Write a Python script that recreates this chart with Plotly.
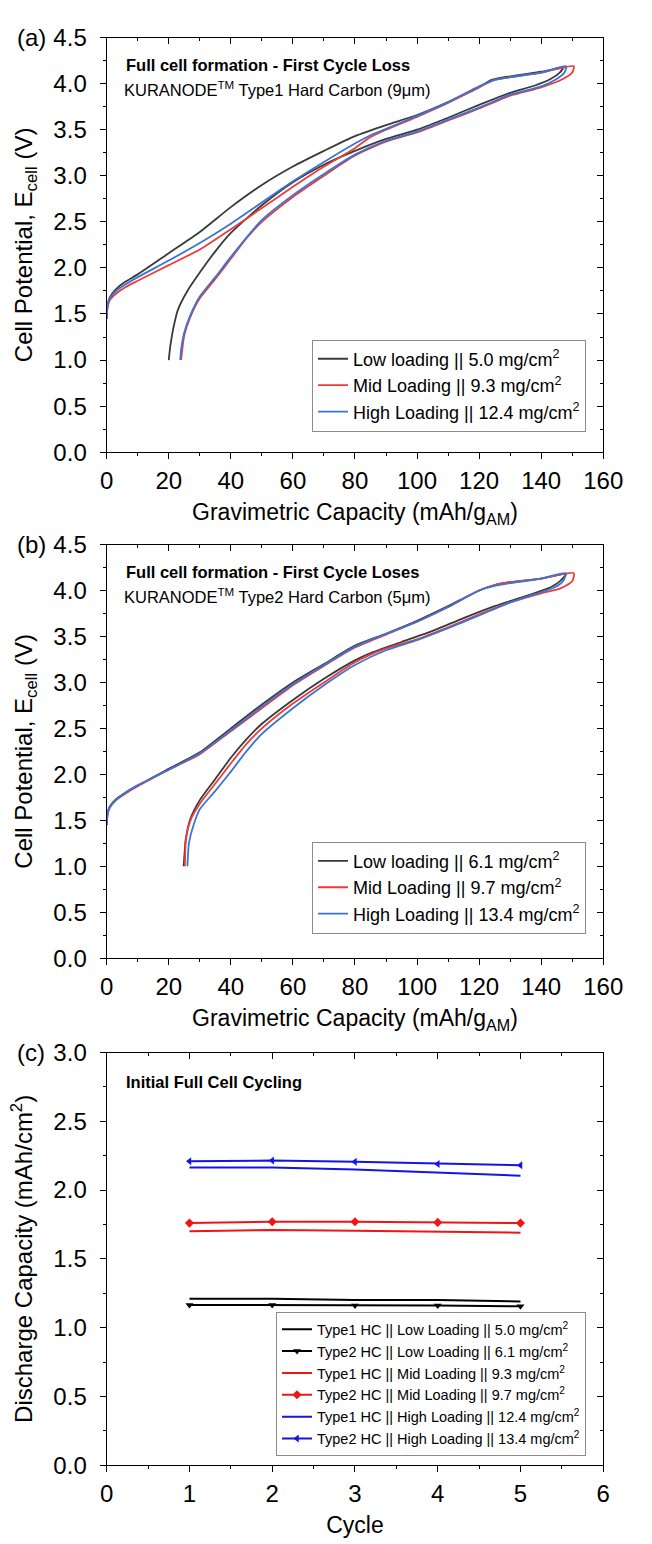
import plotly.graph_objects as go

# ---------------- data ----------------
# (a) Type1 hard carbon: first charge (up) then discharge (down)
a_low_cap = [0, 0.3, 1, 3, 6, 10, 20, 30, 40, 50, 60, 70, 80, 90, 100, 110, 120, 124, 130, 140, 147,
             146, 143, 138, 130, 120, 110, 100, 90, 80, 70, 60, 50, 40, 35, 30, 26, 23, 21.5, 20.5, 20]
a_low_v = [1.45, 1.6, 1.68, 1.77, 1.85, 1.93, 2.16, 2.39, 2.66, 2.9, 3.1, 3.27, 3.43, 3.55, 3.66, 3.8, 3.96, 4.04, 4.08, 4.13, 4.17,
           4.12, 4.05, 3.98, 3.9, 3.77, 3.63, 3.5, 3.4, 3.27, 3.12, 2.93, 2.68, 2.38, 2.18, 1.95, 1.75, 1.55, 1.35, 1.15, 1.0]
a_mid_cap = [0, 0.3, 1, 3, 6, 10, 20, 30, 40, 50, 60, 70, 80, 85, 90, 100, 110, 120, 125, 130, 140, 150.5,
             150, 147, 140, 130, 120, 110, 100, 90, 80, 70, 60, 50, 45, 40, 35, 30, 27, 25, 24.3, 24]
a_mid_v = [1.45, 1.58, 1.65, 1.72, 1.79, 1.86, 2.03, 2.2, 2.42, 2.65, 2.88, 3.1, 3.3, 3.42, 3.5, 3.64, 3.79, 3.96, 4.04, 4.07, 4.12, 4.19,
           4.12, 4.05, 3.96, 3.87, 3.73, 3.6, 3.47, 3.37, 3.22, 3.0, 2.77, 2.5, 2.32, 2.1, 1.88, 1.67, 1.47, 1.27, 1.1, 1.0]
a_high_cap = [0, 0.3, 1, 3, 6, 10, 20, 30, 40, 50, 60, 70, 80, 85, 90, 100, 110, 120, 125, 130, 140, 148,
              147.5, 145, 140, 130, 120, 110, 100, 90, 80, 70, 60, 50, 40, 35, 30, 27, 25, 24, 23.7]
a_high_v = [1.45, 1.6, 1.67, 1.75, 1.82, 1.9, 2.08, 2.27, 2.48, 2.71, 2.94, 3.15, 3.35, 3.44, 3.51, 3.65, 3.8, 3.97, 4.04, 4.07, 4.12, 4.19,
            4.12, 4.05, 3.97, 3.88, 3.74, 3.61, 3.48, 3.38, 3.23, 3.02, 2.79, 2.52, 2.12, 1.9, 1.69, 1.49, 1.3, 1.12, 1.0]

# (b) Type2 hard carbon
b_low_cap = [0, 0.3, 1, 3, 6, 10, 20, 30, 40, 50, 60, 70, 80, 90, 100, 110, 120, 125, 130, 140, 148,
             146, 142, 135, 125, 115, 105, 95, 85, 80, 70, 60, 50, 45, 40, 35, 30, 27, 25.5, 25, 24.8]
b_low_v = [1.45, 1.58, 1.65, 1.73, 1.8, 1.88, 2.06, 2.24, 2.5, 2.76, 3.0, 3.2, 3.4, 3.53, 3.67, 3.83, 4.0, 4.06, 4.09, 4.13, 4.18,
           4.1, 4.02, 3.94, 3.83, 3.7, 3.56, 3.44, 3.32, 3.24, 3.04, 2.81, 2.55, 2.38, 2.18, 1.95, 1.72, 1.52, 1.3, 1.1, 1.0]
b_mid_cap = [0, 0.3, 1, 3, 6, 10, 20, 30, 40, 50, 60, 70, 80, 90, 100, 110, 120, 125, 130, 140, 150.5,
             150, 146, 140, 130, 120, 110, 100, 90, 80, 70, 60, 50, 45, 40, 35, 30, 27, 25.5, 25.2]
b_mid_v = [1.45, 1.57, 1.64, 1.72, 1.79, 1.87, 2.05, 2.22, 2.47, 2.72, 2.97, 3.18, 3.38, 3.52, 3.66, 3.82, 4.0, 4.06, 4.09, 4.13, 4.19,
           4.1, 4.02, 3.97, 3.87, 3.74, 3.6, 3.47, 3.37, 3.22, 3.0, 2.77, 2.5, 2.33, 2.12, 1.9, 1.68, 1.5, 1.28, 1.0]
b_high_cap = [0, 0.3, 1, 3, 6, 10, 20, 30, 40, 50, 60, 70, 80, 90, 100, 110, 120, 125, 130, 140, 148,
              147, 144, 138, 130, 120, 110, 100, 90, 80, 70, 60, 50, 45, 40, 35, 30, 28, 26.5, 26]
b_high_v = [1.45, 1.57, 1.64, 1.72, 1.8, 1.88, 2.05, 2.23, 2.48, 2.74, 2.98, 3.19, 3.39, 3.53, 3.66, 3.82, 4.0, 4.05, 4.08, 4.13, 4.19,
            4.1, 4.03, 3.96, 3.87, 3.73, 3.59, 3.46, 3.35, 3.19, 2.97, 2.72, 2.44, 2.25, 2.03, 1.82, 1.62, 1.45, 1.25, 1.0]

# (c) areal discharge capacity over the first cycles
cycles = [1, 2, 3, 4, 5]
t1_low = [1.21, 1.21, 1.20, 1.20, 1.19]
t2_low = [1.165, 1.165, 1.16, 1.16, 1.155]
t1_mid = [1.70, 1.71, 1.705, 1.695, 1.69]
t2_mid = [1.76, 1.77, 1.77, 1.765, 1.76]
t1_high = [2.165, 2.165, 2.15, 2.125, 2.105]
t2_high = [2.21, 2.215, 2.205, 2.19, 2.18]

names_a = ["Low loading || 5.0 mg/cm<sup>2</sup>", "Mid Loading || 9.3 mg/cm<sup>2</sup>",
           "High Loading || 12.4 mg/cm<sup>2</sup>"]
names_b = ["Low loading || 6.1 mg/cm<sup>2</sup>", "Mid Loading || 9.7 mg/cm<sup>2</sup>",
           "High Loading || 13.4 mg/cm<sup>2</sup>"]
names_c = ["Type1 HC || Low Loading || 5.0 mg/cm<sup>2</sup>", "Type2 HC || Low Loading || 6.1 mg/cm<sup>2</sup>",
           "Type1 HC || Mid Loading || 9.3 mg/cm<sup>2</sup>", "Type2 HC || Mid Loading || 9.7 mg/cm<sup>2</sup>",
           "Type1 HC || High Loading || 12.4 mg/cm<sup>2</sup>", "Type2 HC || High Loading || 13.4 mg/cm<sup>2</sup>"]

# ---------------- styling ----------------
W, H = 652, 1544
FONT = "Liberation Sans, Arial, sans-serif"
VC = ["#3a3a3a", "#f03a3a", "#3876d6"]        # voltage-profile colours
CC = ["#000000", "#f01414", "#1414e6"]        # cycling colours

X0, X1 = 104, 622                              # plot area, px
PANELS = [(24, 446), (540, 961), (1057, 1477)]  # (top, bottom) px


def ydom(top, bot):
    return [1 - bot / H, 1 - top / H]


xdom = [X0 / W, X1 / W]

fig = go.Figure()

for i, (cap, v) in enumerate([(a_low_cap, a_low_v), (a_mid_cap, a_mid_v), (a_high_cap, a_high_v)]):
    fig.add_trace(go.Scatter(x=cap, y=v, mode="lines", name=names_a[i], legend="legend",
                             line=dict(color=VC[i], width=1.8, shape="spline", smoothing=0.6),
                             xaxis="x", yaxis="y"))
for i, (cap, v) in enumerate([(b_low_cap, b_low_v), (b_mid_cap, b_mid_v), (b_high_cap, b_high_v)]):
    fig.add_trace(go.Scatter(x=cap, y=v, mode="lines", name=names_b[i], legend="legend2",
                             line=dict(color=VC[i], width=1.8, shape="spline", smoothing=0.6),
                             xaxis="x2", yaxis="y2"))

series_c = [t1_low, t2_low, t1_mid, t2_mid, t1_high, t2_high]
symbols = [None, "triangle-down", None, "diamond", None, "triangle-left"]
for i, vals in enumerate(series_c):
    col = CC[i // 2]
    if symbols[i] is None:
        fig.add_trace(go.Scatter(x=cycles, y=vals, mode="lines", name=names_c[i], legend="legend3",
                                 line=dict(color=col, width=2), xaxis="x3", yaxis="y3"))
    else:
        fig.add_trace(go.Scatter(x=cycles, y=vals, mode="lines+markers", name=names_c[i], legend="legend3",
                                 line=dict(color=col, width=2),
                                 marker=dict(symbol=symbols[i], size=7, color=col),
                                 xaxis="x3", yaxis="y3"))

# empty traces so the mirrored (inside-tick) frame axes get drawn
for k in (4, 5, 6):
    fig.add_trace(go.Scatter(x=[], y=[], xaxis=f"x{k}", yaxis=f"y{k}", showlegend=False, hoverinfo="skip"))

tickfont = dict(family=FONT, size=24, color="#000")
xtitlefont = dict(family=FONT, size=23, color="#000")
ytitlefont = dict(family=FONT, size=24, color="#000")


def main_x(rng, dtick, minor, anchor, dom, title):
    return dict(domain=dom, range=rng, anchor=anchor, dtick=dtick, tick0=0, ticks="outside", ticklen=6,
                tickwidth=1.3, tickcolor="#000", showline=True, linecolor="#000", linewidth=1.3,
                showgrid=False, zeroline=False, tickfont=tickfont, ticklabelstandoff=1,
                minor=dict(dtick=minor, ticks="outside", ticklen=3, tickwidth=1.1, tickcolor="#000", showgrid=False),
                title=dict(text=title, font=xtitlefont, standoff=10), mirror=False, fixedrange=True)


def main_y(rng, dtick, minor, anchor, dom, title):
    return dict(domain=dom, range=rng, anchor=anchor, dtick=dtick, tick0=0, ticks="outside", ticklen=6,
                tickwidth=1.3, tickcolor="#000", showline=True, linecolor="#000", linewidth=1.3,
                showgrid=False, zeroline=False, tickfont=tickfont, tickformat=".1f", ticklabelstandoff=8,
                minor=dict(dtick=minor, ticks="outside", ticklen=3, tickwidth=1.1, tickcolor="#000", showgrid=False),
                title=dict(text=title, font=ytitlefont, standoff=13), fixedrange=True)


def frame_x(rng, dtick, minor, anchor, over, dom):
    return dict(domain=dom, range=rng, anchor=anchor, overlaying=over, side="top", dtick=dtick, tick0=0,
                ticks="inside", ticklen=6, tickwidth=1.3, tickcolor="#000", showline=True, linecolor="#000",
                linewidth=1.3, showgrid=False, zeroline=False, showticklabels=False,
                minor=dict(dtick=minor, ticks="inside", ticklen=3, tickwidth=1.1, tickcolor="#000", showgrid=False),
                fixedrange=True)


def frame_y(rng, dtick, minor, anchor, over, dom):
    return dict(domain=dom, range=rng, anchor=anchor, overlaying=over, side="right", dtick=dtick, tick0=0,
                ticks="inside", ticklen=6, tickwidth=1.3, tickcolor="#000", showline=True, linecolor="#000",
                linewidth=1.3, showgrid=False, zeroline=False, showticklabels=False,
                minor=dict(dtick=minor, ticks="inside", ticklen=3, tickwidth=1.1, tickcolor="#000", showgrid=False),
                fixedrange=True)


gx_title = "Gravimetric Capacity (mAh/g<sub>AM</sub>)"
ev_title = "Cell Potential, E<sub>cell</sub> (V)"
da, db, dc = (ydom(*p) for p in PANELS)

fig.update_layout(
    width=W, height=H, margin=dict(l=0, r=0, t=0, b=0),
    paper_bgcolor="white", plot_bgcolor="white",
    font=dict(family=FONT, color="#000"),
    xaxis=main_x([0, 160], 20, 10, "y", xdom, gx_title),
    yaxis=main_y([0, 4.5], 0.5, 0.25, "x", da, ev_title),
    xaxis2=main_x([0, 160], 20, 10, "y2", xdom, gx_title),
    yaxis2=main_y([0, 4.5], 0.5, 0.25, "x2", db, ev_title),
    xaxis3=main_x([0, 6], 1, 0.5, "y3", xdom, "Cycle"),
    yaxis3=main_y([0, 3.0], 0.5, 0.25, "x3", dc, "Discharge Capacity (mAh/cm<sup>2</sup>)"),
    xaxis4=frame_x([0, 160], 20, 10, "y4", "x", xdom),
    yaxis4=frame_y([0, 4.5], 0.5, 0.25, "x4", "y", da),
    xaxis5=frame_x([0, 160], 20, 10, "y5", "x2", xdom),
    yaxis5=frame_y([0, 4.5], 0.5, 0.25, "x5", "y2", db),
    xaxis6=frame_x([0, 6], 1, 0.5, "y6", "x3", xdom),
    yaxis6=frame_y([0, 3.0], 0.5, 0.25, "x6", "y3", dc),
    legend=dict(x=604 / W, y=1 - 425 / H, xanchor="right", yanchor="bottom", bgcolor="white",
                bordercolor="#8c8c8c", borderwidth=1, font=dict(family=FONT, size=18), tracegroupgap=0),
    legend2=dict(x=604 / W, y=1 - 936 / H, xanchor="right", yanchor="bottom", bgcolor="white",
                 bordercolor="#8c8c8c", borderwidth=1, font=dict(family=FONT, size=18), tracegroupgap=0),
    legend3=dict(x=604 / W, y=1 - 1468 / H, xanchor="right", yanchor="bottom", bgcolor="white",
                 bordercolor="#8c8c8c", borderwidth=1, font=dict(family=FONT, size=14.5), tracegroupgap=0),
    showlegend=True,
)

# panel letters and in-plot headings
ann = []
for lab, (top, _) in zip(["(a)", "(b)", "(c)"], PANELS):
    ann.append(dict(text=lab, x=8 / W, y=1 - top / H, xref="paper", yref="paper", xanchor="left",
                    yanchor="middle", showarrow=False, font=dict(family=FONT, size=24)))

heads = [
    (PANELS[0][0], "<b>Full cell formation - First Cycle Loss</b>",
     "KURANODE<sup>TM</sup> Type1 Hard Carbon (9\u03bcm)"),
    (PANELS[1][0], "<b>Full cell formation - First Cycle Loses</b>",
     "KURANODE<sup>TM</sup> Type2 Hard Carbon (5\u03bcm)"),
]
for top, bold, sub in heads:
    ann.append(dict(text=bold, x=122 / W, y=1 - (top + 28) / H, xref="paper", yref="paper", xanchor="left",
                    yanchor="middle", showarrow=False, font=dict(family=FONT, size=16.5)))
    ann.append(dict(text=sub, x=120 / W, y=1 - (top + 52) / H, xref="paper", yref="paper", xanchor="left",
                    yanchor="middle", showarrow=False, font=dict(family=FONT, size=16.5)))
ann.append(dict(text="<b>Initial Full Cell Cycling</b>", x=122 / W, y=1 - (PANELS[2][0] + 30) / H,
                xref="paper", yref="paper", xanchor="left", yanchor="middle", showarrow=False,
                font=dict(family=FONT, size=16.5)))
fig.update_layout(annotations=ann)

fig.write_html("out.html")
